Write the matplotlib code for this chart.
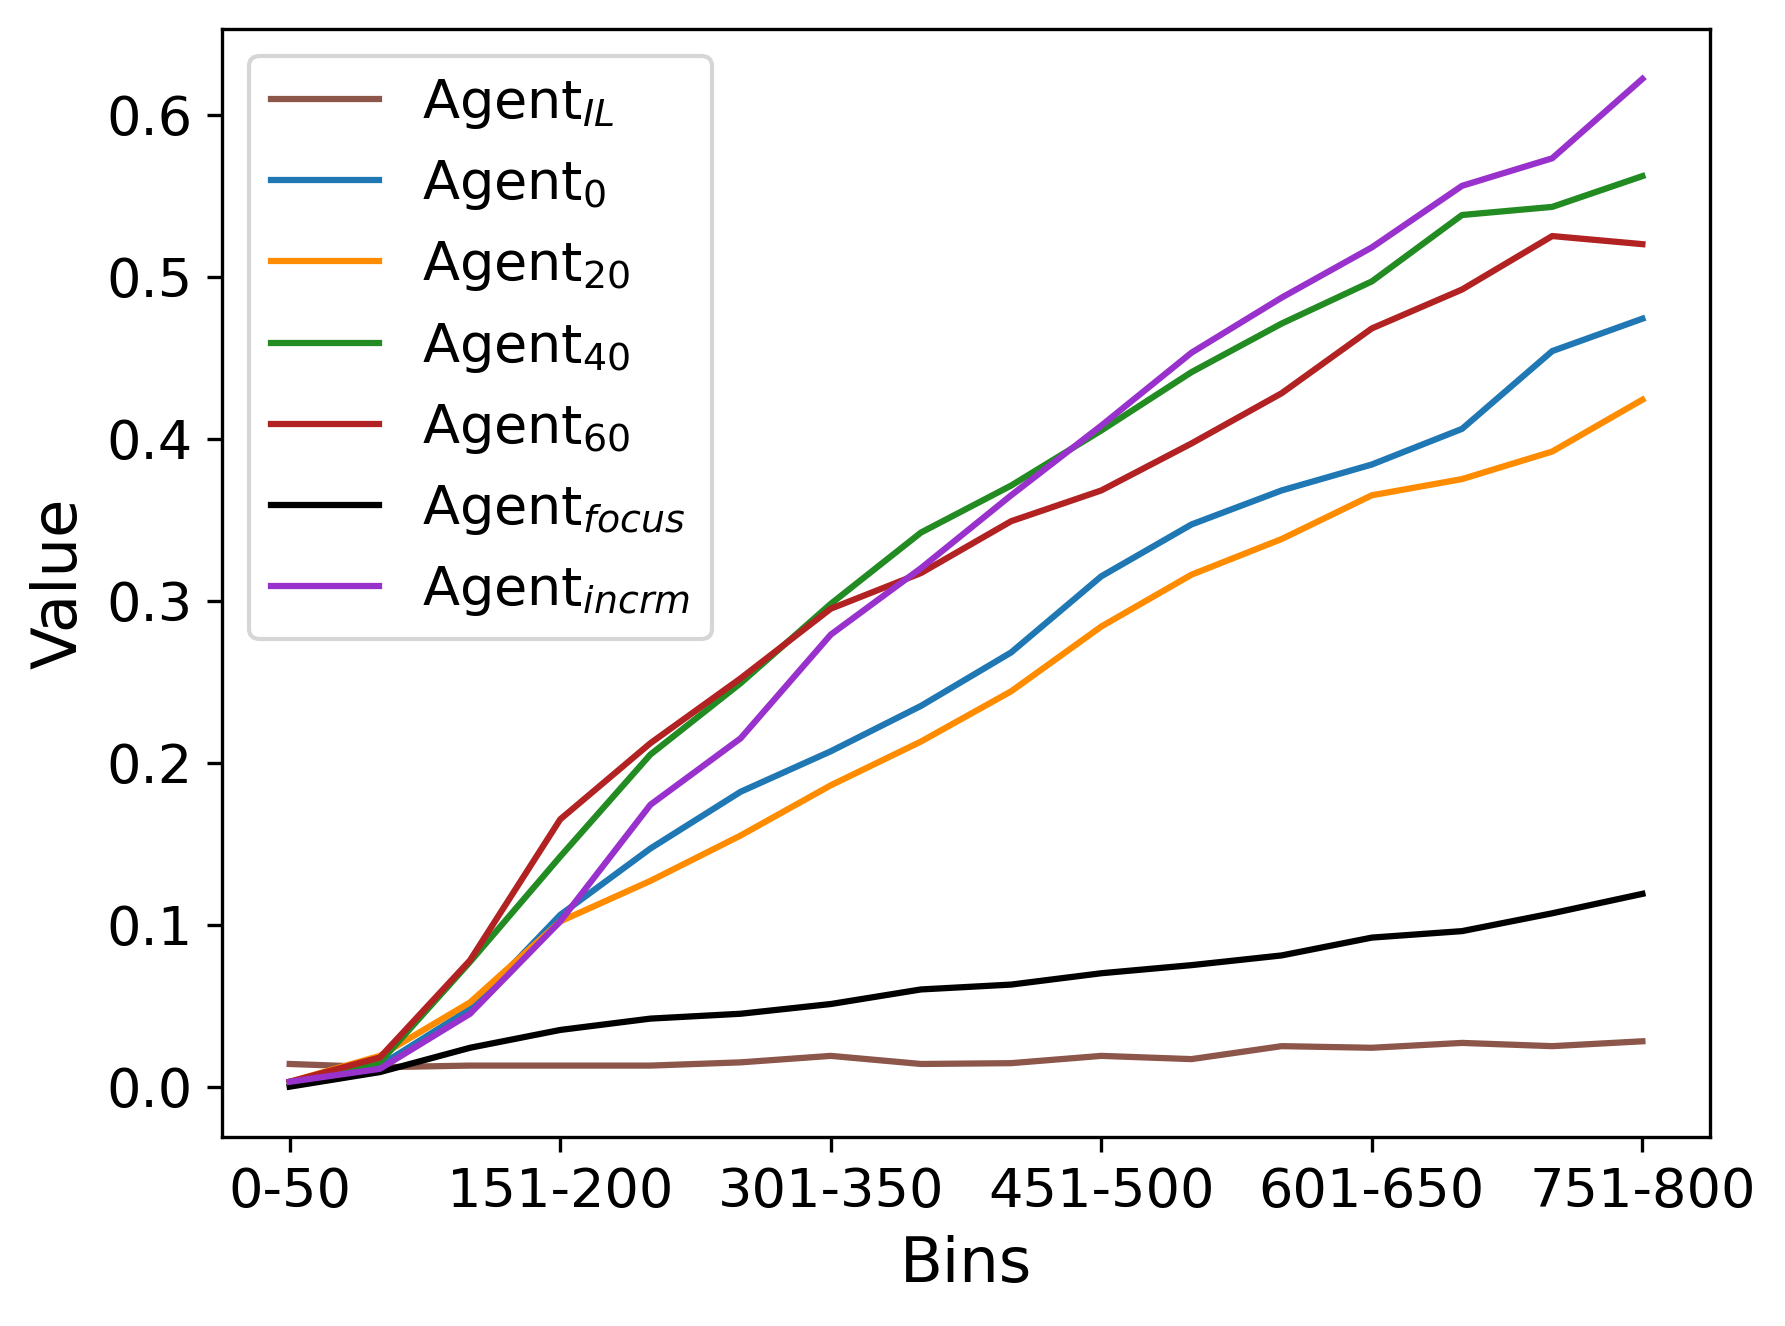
import matplotlib
matplotlib.use("Agg")
import matplotlib.pyplot as plt

# bins of 50 from 0 to 800
bins = ["0-50", "51-100", "101-150", "151-200", "201-250", "251-300",
        "301-350", "351-400", "401-450", "451-500", "501-550", "551-600",
        "601-650", "651-700", "701-750", "751-800"]

agent_il = [0.014, 0.012, 0.013, 0.013, 0.013, 0.015, 0.019, 0.014,
            0.0145, 0.019, 0.017, 0.025, 0.024, 0.027, 0.025, 0.028]
agent_0 = [0.003, 0.013, 0.048, 0.106, 0.147, 0.182, 0.207, 0.235,
           0.268, 0.315, 0.347, 0.368, 0.384, 0.406, 0.454, 0.474]
agent_20 = [0.003, 0.019, 0.052, 0.102, 0.127, 0.155, 0.186, 0.213,
            0.244, 0.284, 0.316, 0.338, 0.365, 0.375, 0.392, 0.424]
agent_40 = [0.003, 0.015, 0.077, 0.142, 0.205, 0.249, 0.298, 0.342,
            0.371, 0.405, 0.441, 0.471, 0.497, 0.538, 0.543, 0.562]
agent_60 = [0.003, 0.018, 0.078, 0.165, 0.212, 0.252, 0.295, 0.317,
            0.349, 0.368, 0.397, 0.428, 0.468, 0.492, 0.525, 0.520]
agent_focus = [0.0, 0.009, 0.024, 0.035, 0.042, 0.045, 0.051, 0.060,
               0.063, 0.070, 0.075, 0.081, 0.092, 0.096, 0.107, 0.119]
agent_incrm = [0.003, 0.011, 0.045, 0.102, 0.174, 0.215, 0.279, 0.320,
               0.365, 0.408, 0.453, 0.487, 0.518, 0.556, 0.573, 0.622]

series = [
    (agent_il, r"Agent$_{IL}$", "#8c564b"),
    (agent_0, r"Agent$_0$", "#1f77b4"),
    (agent_20, r"Agent$_{20}$", "darkorange"),
    (agent_40, r"Agent$_{40}$", "forestgreen"),
    (agent_60, r"Agent$_{60}$", "firebrick"),
    (agent_focus, r"Agent$_{focus}$", "black"),
    (agent_incrm, r"Agent$_{incrm}$", "darkorchid"),
]

fig, ax = plt.subplots(figsize=(5.95, 4.42))
fig.subplots_adjust(left=0.1244, right=0.958, top=0.9785, bottom=0.1425)
x = list(range(len(bins)))
for vals, label, color in series:
    ax.plot(x, vals, color=color, label=label, linewidth=1.5)

ax.set_xticks(x[::3])
ax.set_xticklabels(bins[::3], fontsize=13)
ax.tick_params(axis="y", labelsize=13)
ax.set_xlabel("Bins", fontsize=15)
ax.set_ylabel("Value", fontsize=15)
ax.legend(fontsize=13, loc="upper left")

fig.savefig("out.png", dpi=300)
plt.close(fig)
